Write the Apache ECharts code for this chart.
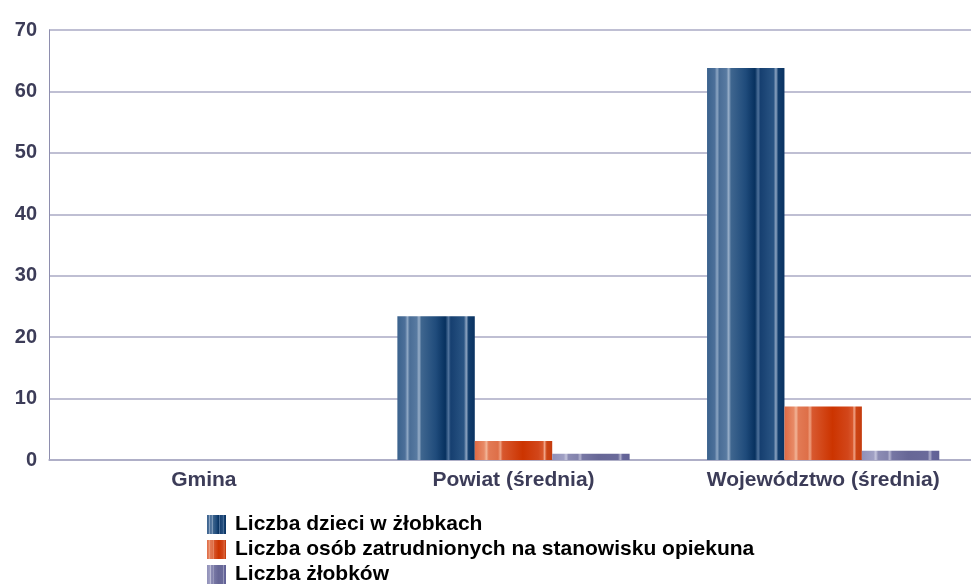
<!DOCTYPE html>
<html>
<head>
<meta charset="utf-8">
<script src="https://cdn.jsdelivr.net/npm/echarts@6/dist/echarts.min.js"></script>
<style>
  html, body { margin: 0; padding: 0; background: #ffffff; }
  #main { width: 971px; height: 584px; }
</style>
</head>
<body>
<div id="main"></div>
<script>
// dane
var categories = ['Gmina', 'Powiat (średnia)', 'Województwo (średnia)'];
var seriesNames = [
  'Liczba dzieci w żłobkach',
  'Liczba osób zatrudnionych na stanowisku opiekuna',
  'Liczba żłobków'
];
var dzieci = [0, 23.4, 63.8];
var opiekunowie = [0, 3.1, 8.7];
var zlobki = [0, 1.0, 1.5];
var yTicks = { min: 0, max: 70, interval: 10 };

function stripes(stops) {
  return {
    type: 'linear', x: 0, y: 0, x2: 1, y2: 0,
    colorStops: stops.map(function (s) { return { offset: s[0], color: s[1] }; })
  };
}

var blueFill = stripes([
  [0, '#3a628d'], [0.1, '#4d709a'], [0.13, '#8ea7c4'], [0.16, '#4a6d96'],
  [0.25, '#587aa1'], [0.28, '#9ab0ca'], [0.31, '#3f668f'], [0.5, '#1f4b7b'],
  [0.62, '#07315f'], [0.66, '#4f729b'], [0.69, '#163f70'], [0.86, '#2a5584'],
  [0.89, '#8ea5c2'], [0.92, '#123d6c'], [1, '#0a3362']
]);
var orangeFill = stripes([
  [0, '#de6a44'], [0.12, '#e88a66'], [0.15, '#f2b598'], [0.18, '#e27a55'],
  [0.3, '#de6f48'], [0.33, '#eea080'], [0.36, '#d8582e'], [0.62, '#cc3400'],
  [0.82, '#d2461a'], [0.88, '#d9582c'], [0.9, '#f1a488'], [0.93, '#cc4414'],
  [1, '#c43c0e']
]);
var purpleFill = stripes([
  [0, '#9090b8'], [0.15, '#a0a0c4'], [0.18, '#c4c4dc'], [0.21, '#8c8cb4'],
  [0.33, '#8282ac'], [0.36, '#b4b4d0'], [0.39, '#7777a4'], [0.6, '#676796'],
  [0.85, '#6a6a9a'], [0.88, '#b0b0cc'], [0.91, '#65659a'], [1, '#616194']
]);

// jedna legenda na wiersz, zeby sie nie zawijala
function legendRow(name, top) {
  return {
    orient: 'vertical',
    left: 207,
    top: top,
    padding: 0,
    itemWidth: 19,
    itemHeight: 19,
    icon: 'rect',
    textStyle: {
      fontSize: 21,
      fontWeight: 'bold',
      color: '#000000',
      padding: [0, 0, 0, 4]
    },
    data: [name]
  };
}

var chart = echarts.init(document.getElementById('main'));

var option = {
  backgroundColor: '#ffffff',
  animation: false,
  textStyle: { fontFamily: 'Liberation Sans, Arial, sans-serif' },
  // siatka wychodzi poza prawa krawedz, jak w oryginale
  grid: { left: 49, width: 929, top: 30, height: 430, outerBoundsMode: 'none', containLabel: false },
  legend: [
    legendRow(seriesNames[0], 514),
    legendRow(seriesNames[1], 539),
    legendRow(seriesNames[2], 564)
  ],
  xAxis: {
    type: 'category',
    data: categories,
    axisTick: { show: false },
    axisLine: { show: true, lineStyle: { color: '#aaaac4', width: 1.5 } },
    axisLabel: {
      margin: 10,
      fontSize: 21,
      fontWeight: 'bold',
      color: '#3c3c58'
    }
  },
  yAxis: {
    type: 'value',
    min: yTicks.min,
    max: yTicks.max,
    interval: yTicks.interval,
    axisLine: { show: true, lineStyle: { color: '#8e8eae', width: 1 } },
    axisTick: { show: false },
    splitLine: { show: true, lineStyle: { color: '#aaaac4', width: 1.5 } },
    axisLabel: {
      margin: 12,
      fontSize: 20,
      fontWeight: 'bold',
      color: '#3c3c58',
      padding: [0, 0, 10, 0]
    }
  },
  series: [
    {
      name: seriesNames[0],
      type: 'bar',
      data: dzieci,
      barGap: '0%',
      barCategoryGap: '25%',
      itemStyle: { color: blueFill }
    },
    {
      name: seriesNames[1],
      type: 'bar',
      data: opiekunowie,
      barGap: '0%',
      barCategoryGap: '25%',
      itemStyle: { color: orangeFill }
    },
    {
      name: seriesNames[2],
      type: 'bar',
      data: zlobki,
      barGap: '0%',
      barCategoryGap: '25%',
      itemStyle: { color: purpleFill }
    }
  ]
};

chart.setOption(option);
</script>
</body>
</html>
